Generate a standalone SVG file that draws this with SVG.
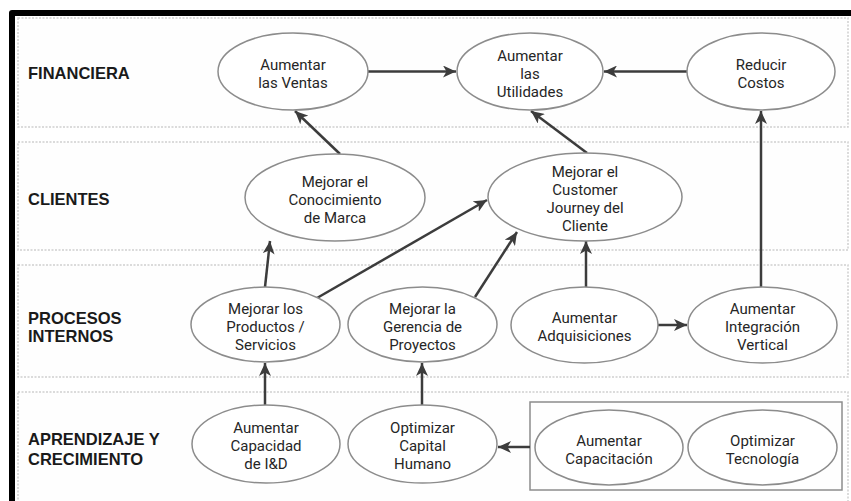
<svg xmlns="http://www.w3.org/2000/svg" width="851" height="501" viewBox="0 0 851 501">
  <defs>
    <marker id="arrow" markerUnits="userSpaceOnUse" markerWidth="14" markerHeight="12" refX="13" refY="6" orient="auto">
      <path d="M0,0 L13,6 L0,12 L3.5,6 z" fill="#3c3c3c"/>
    </marker>
    <style>
      .lane { fill: #fefefe; stroke: #cfcfcf; stroke-width: 1.5; stroke-dasharray: 2 1.5; }
      .lbl { font-family: "Liberation Sans", Arial, sans-serif; font-weight: bold; font-size: 16.5px; fill: #1a1a1a; }
      .node ellipse { fill: #ffffff; stroke: #8c8c8c; stroke-width: 1.5; }
      .node text { font-family: Roboto, "Liberation Sans", Arial, sans-serif; font-size: 15px; fill: #262626; text-anchor: middle; }
      .group { fill: none; stroke: #8c8c8c; stroke-width: 1.5; }
      .conn path { fill: none; stroke: #3c3c3c; stroke-width: 2.5; marker-end: url(#arrow); }
    </style>
  </defs>

  <rect width="851" height="501" fill="#ffffff"/>

  <!-- swimlanes -->
  <g id="lanes">
    <rect class="lane" x="18" y="18" width="830" height="109"/>
    <rect class="lane" x="18" y="142" width="830" height="108"/>
    <rect class="lane" x="18" y="265" width="830" height="112"/>
    <rect class="lane" x="18" y="392" width="830" height="125"/>
  </g>

  <!-- outer frame -->
  <path d="M12,501 V13 H851" fill="none" stroke="#000000" stroke-width="6" stroke-linejoin="round"/>

  <!-- lane titles -->
  <g id="lane-titles">
    <text class="lbl" x="28" y="79">FINANCIERA</text>
    <text class="lbl" x="28" y="205">CLIENTES</text>
    <text class="lbl" x="28" y="324">PROCESOS</text>
    <text class="lbl" x="28" y="342">INTERNOS</text>
    <text class="lbl" x="28" y="445">APRENDIZAJE Y</text>
    <text class="lbl" x="28" y="465">CRECIMIENTO</text>
  </g>

  <!-- grouping box -->
  <rect id="grupo-capacidades" class="group" x="530" y="402" width="312" height="88"/>

  <!-- connectors -->
  <g id="connectors" class="conn">
    <path d="M368,71.5 H456"/>
    <path d="M687,71.5 H604"/>
    <path d="M340,154 L295,111"/>
    <path d="M587,153 L531,111"/>
    <path d="M761,287 V111"/>
    <path d="M265,287 L270,241"/>
    <path d="M317,298 L487,200"/>
    <path d="M475,297 L517,232"/>
    <path d="M586,287 V241"/>
    <path d="M658,325 H687"/>
    <path d="M265,405 V363"/>
    <path d="M422,405 V363"/>
    <path d="M530,447 H498"/>
  </g>

  <!-- nodes -->
  <g id="aumentar-ventas" class="node">
    <ellipse cx="293" cy="71.5" rx="75" ry="38.5"/>
    <text x="293" y="69.5">Aumentar</text>
    <text x="293" y="87.5">las Ventas</text>
  </g>
  <g id="aumentar-utilidades" class="node">
    <ellipse cx="530" cy="71.5" rx="73" ry="38.5"/>
    <text x="530" y="60.5">Aumentar</text>
    <text x="530" y="78.5">las</text>
    <text x="530" y="96.5">Utilidades</text>
  </g>
  <g id="reducir-costos" class="node">
    <ellipse cx="761" cy="71.5" rx="74" ry="38.5"/>
    <text x="761" y="69.5">Reducir</text>
    <text x="761" y="87.5">Costos</text>
  </g>
  <g id="conocimiento-marca" class="node">
    <ellipse cx="335" cy="197.5" rx="90" ry="43.5"/>
    <text x="335" y="187">Mejorar el</text>
    <text x="335" y="205">Conocimiento</text>
    <text x="335" y="223">de Marca</text>
  </g>
  <g id="customer-journey" class="node">
    <ellipse cx="585" cy="197" rx="97" ry="44"/>
    <text x="585" y="177">Mejorar el</text>
    <text x="585" y="195">Customer</text>
    <text x="585" y="213">Journey del</text>
    <text x="585" y="231">Cliente</text>
  </g>
  <g id="productos-servicios" class="node">
    <ellipse cx="265.5" cy="324.5" rx="74.5" ry="37.5"/>
    <text x="265.5" y="313.5">Mejorar los</text>
    <text x="265.5" y="331.5">Productos /</text>
    <text x="265.5" y="349.5">Servicios</text>
  </g>
  <g id="gerencia-proyectos" class="node">
    <ellipse cx="422.5" cy="324.5" rx="74.5" ry="37.5"/>
    <text x="422.5" y="313.5">Mejorar la</text>
    <text x="422.5" y="331.5">Gerencia de</text>
    <text x="422.5" y="349.5">Proyectos</text>
  </g>
  <g id="aumentar-adquisiciones" class="node">
    <ellipse cx="584.5" cy="325" rx="73.5" ry="38"/>
    <text x="584.5" y="323">Aumentar</text>
    <text x="584.5" y="341">Adquisiciones</text>
  </g>
  <g id="integracion-vertical" class="node">
    <ellipse cx="762.5" cy="325" rx="74.5" ry="38"/>
    <text x="762.5" y="314">Aumentar</text>
    <text x="762.5" y="332">Integración</text>
    <text x="762.5" y="350">Vertical</text>
  </g>
  <g id="capacidad-id" class="node">
    <ellipse cx="266" cy="444" rx="74" ry="39"/>
    <text x="266" y="433">Aumentar</text>
    <text x="266" y="451">Capacidad</text>
    <text x="266" y="469">de I&amp;D</text>
  </g>
  <g id="capital-humano" class="node">
    <ellipse cx="422.5" cy="444" rx="74.5" ry="39"/>
    <text x="422.5" y="433">Optimizar</text>
    <text x="422.5" y="451">Capital</text>
    <text x="422.5" y="469">Humano</text>
  </g>
  <g id="aumentar-capacitacion" class="node">
    <ellipse cx="609" cy="447.5" rx="74" ry="37.5"/>
    <text x="609" y="445.5">Aumentar</text>
    <text x="609" y="463.5">Capacitación</text>
  </g>
  <g id="optimizar-tecnologia" class="node">
    <ellipse cx="762.5" cy="447.5" rx="74.5" ry="37.5"/>
    <text x="762.5" y="445.5">Optimizar</text>
    <text x="762.5" y="463.5">Tecnología</text>
  </g>
</svg>
